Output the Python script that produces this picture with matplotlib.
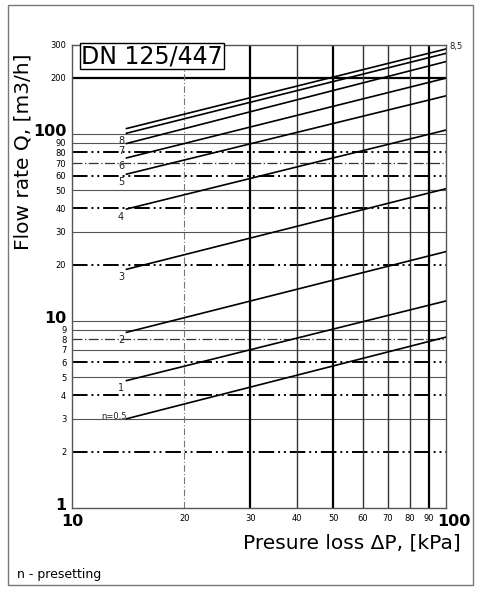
import numpy as np
import matplotlib
matplotlib.use('Agg')
import matplotlib.pyplot as plt
import matplotlib.transforms as mtransforms
from matplotlib.patches import Rectangle

# presetting curves, flow at start (dP=14 kPa) and end (dP=100 kPa)
presetting = ['n=0,5', '1', '2', '3', '4', '5', '6', '7', '8', '8,5']
dp_start = 14
dp_end = 100
q_start = [3.0, 4.8, 8.7, 18.9, 39.7, 61, 74.5, 89, 101, 107]
q_end = [8.2, 12.8, 23.5, 51, 105, 160, 199, 244, 270, 285]

y_ticks = [1, 2, 3, 4, 5, 6, 7, 8, 9, 10, 20, 30, 40, 50, 60, 70, 80, 90, 100, 200, 300]
x_ticks = [10, 20, 30, 40, 50, 60, 70, 80, 90, 100]
y_heavy = [2, 4, 6, 20, 40, 60, 80]
y_mid = [70, 8]
x_heavy = [30, 50, 90]

fig = plt.figure(figsize=(4.82, 5.9), dpi=100)
fig.patches.append(Rectangle((0.017, 0.008), 0.965, 0.983, transform=fig.transFigure,
                             fill=False, edgecolor='#777777', lw=1.0))
ax = fig.add_axes([0.149, 0.139, 0.776, 0.785])
ax.set_xscale('log')
ax.set_yscale('log')
ax.set_xlim(10, 100)
ax.set_ylim(1, 300)

# grid
for v in y_ticks[1:-1]:
    if v in y_heavy:
        ax.axhline(v, color='black', lw=1.4, ls=(0, (8, 2, 1, 2, 1, 2)), zorder=1)
    elif v in y_mid:
        ax.axhline(v, color='#333333', lw=0.9, ls=(0, (8, 2, 1, 2)), zorder=1)
    elif v == 200:
        ax.axhline(v, color='black', lw=1.6, zorder=1)
    else:
        ax.axhline(v, color='#555555', lw=0.8, zorder=1)
for v in x_ticks[1:-1]:
    if v in x_heavy:
        ax.axvline(v, color='black', lw=1.6, zorder=1)
    elif v == 20:
        ax.axvline(v, color='#777777', lw=0.8, ls=(0, (6, 2, 1, 2)), zorder=1)
    else:
        ax.axvline(v, color='#333333', lw=1.0, zorder=1)

# curves
for name, q0, q1 in zip(presetting, q_start, q_end):
    ax.plot([dp_start, dp_end], [q0, q1], color='black', lw=1.2, zorder=3)
    if name == 'n=0,5':
        ax.text(dp_start, q0 * 1.03, name, fontsize=6, ha='right', va='center', color='#222222')
    elif name == '8,5':
        ax.text(dp_end * 1.02, q1 * 1.03, name, fontsize=6, ha='left', va='center', color='#222222')
    else:
        ax.text(dp_start * 0.985, q0 * 0.91, name, fontsize=7, ha='right', va='center', color='#222222')

ax.text(10.6, 225, 'DN 125/447', fontsize=17, va='bottom', ha='left',
        bbox=dict(boxstyle='square,pad=0.05', fc='white', ec='black', lw=1.0), zorder=4)

for s in ax.spines.values():
    s.set_color('#555555')
    s.set_linewidth(1.0)

ax.set_yticks(y_ticks)
ax.set_yticklabels([str(v) for v in y_ticks])
ax.set_xticks(x_ticks)
ax.set_xticklabels([str(v) for v in x_ticks])
ax.minorticks_off()
ax.tick_params(length=0, pad=4)
for lab, v in zip(ax.get_yticklabels(), y_ticks):
    if v in (1, 10, 100):
        lab.set_fontsize(11.5)
        lab.set_fontweight('bold')
        lab.set_transform(lab.get_transform() + mtransforms.ScaledTranslation(0, 3 / 72, fig.dpi_scale_trans))
    else:
        lab.set_fontsize(6)
for lab, v in zip(ax.get_xticklabels(), x_ticks):
    if v in (10, 100):
        lab.set_fontsize(11.5)
        lab.set_fontweight('bold')
        if v == 100:
            lab.set_transform(lab.get_transform() + mtransforms.ScaledTranslation(6 / 72, 0, fig.dpi_scale_trans))
    else:
        lab.set_fontsize(6)

ax.set_ylabel('Flow rate Q, [m3/h]', fontsize=14.5, labelpad=2)
ax.yaxis.set_label_coords(-0.105, 0.77)
fig.text(0.955, 0.08, 'Presure loss \u0394P, [kPa]', fontsize=14.5, ha='right', va='center')
fig.text(0.035, 0.026, 'n - presetting', fontsize=9, ha='left', va='center')

fig.savefig('out.png', dpi=100)
